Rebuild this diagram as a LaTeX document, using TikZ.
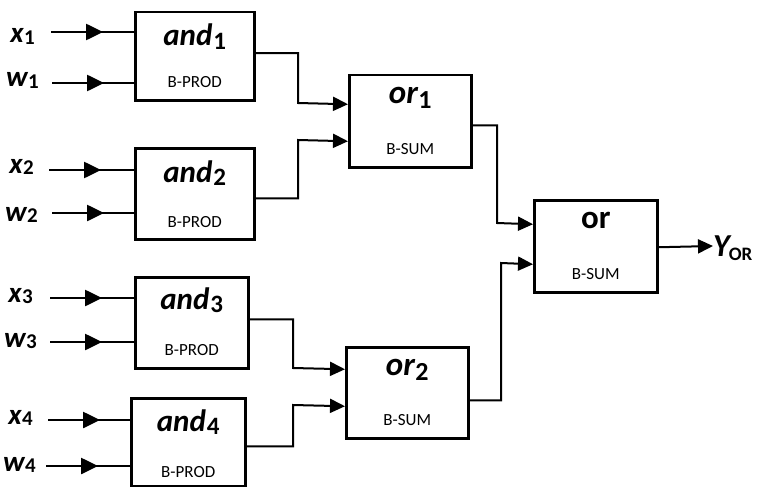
\documentclass[tikz,border=0pt]{standalone}
\usepackage{fontspec}
\setmainfont{Carlito}
\usetikzlibrary{arrows.meta,calc,decorations.markings}
\newcommand{\inlab}[2]{{\fontsize{29}{29}\selectfont\bfseries\itshape #1}\kern0.5pt\raisebox{-1.5pt}{\fontsize{21}{21}\selectfont\bfseries #2}}
\newcommand{\andlab}[1]{{\fontsize{31}{31}\selectfont\bfseries\itshape and}\kern1pt\raisebox{-3pt}{\fontsize{25}{25}\selectfont\bfseries #1}}
\newcommand{\orlab}[1]{{\fontsize{33}{33}\selectfont\bfseries\itshape or}\kern0.5pt\raisebox{-5pt}{\fontsize{26}{26}\selectfont\bfseries #1}}
\tikzset{
  gate/.style={draw, line width=2.5pt, anchor=north west, inner sep=0pt},
  sub/.style={anchor=base, font=\fontsize{17}{17}\selectfont},
  ttl/.style={anchor=base, inner sep=0pt},
  inlabel/.style={anchor=base east, inner sep=0pt},
  conn/.style={line width=2pt, -{Triangle[length=15pt,width=14pt]}},
  inwire/.style={line width=2.6pt, postaction={decorate},
    decoration={markings, mark=at position 52pt with {\arrow{Triangle[length=17pt,width=16pt]}}}},
}
\begin{document}
\begin{tikzpicture}[x=1pt,y=-1pt]
\useasboundingbox (0,0) rectangle (763,487);
% gates
\node[gate, minimum width=119pt, minimum height=88pt] (and1) at (134,11) {};
\node[gate, minimum width=119pt, minimum height=91pt] (and2) at (134,147) {};
\node[gate, minimum width=113pt, minimum height=91pt] (and3) at (134,276) {};
\node[gate, minimum width=114pt, minimum height=88pt] (and4) at (130,397) {};
\node[gate, minimum width=122pt, minimum height=92pt] (or1) at (348,74) {};
\node[gate, minimum width=122pt, minimum height=91pt] (or2) at (345,346) {};
\node[gate, minimum width=123pt, minimum height=92pt] (or) at (533,199) {};
% titles
\node[ttl] (t1) at ($(and1.north)+(0,35)$) {\andlab{1}};
\node[ttl] (t2) at ($(and2.north)+(0,35)$) {\andlab{2}};
\node[ttl] (t3) at ($(and3.north)+(0,33)$) {\andlab{3}};
\node[ttl] (t4) at ($(and4.north)+(0,34)$) {\andlab{4}};
\node[ttl] (t5) at ($(or1.north)+(0,29)$) {\orlab{1}};
\node[ttl] (t6) at ($(or2.north)+(0,29)$) {\orlab{2}};
\node[ttl] (t7) at ($(or.north)+(0,29)$) {\fontsize{33}{33}\selectfont\bfseries or};
% sub labels
\node[sub] (s1) at ($(and1.north)+(0,77)$) {B-PROD};
\node[sub] (s2) at ($(and2.north)+(0,80)$) {B-PROD};
\node[sub] (s3) at ($(and3.north)+(0,79)$) {B-PROD};
\node[sub] (s4) at ($(and4.north)+(0,80)$) {B-PROD};
\node[sub] (s5) at ($(or1.north)+(0,80)$) {B-SUM};
\node[sub] (s6) at ($(or2.north)+(0,79)$) {B-SUM};
\node[sub] (s7) at ($(or.north)+(0,80)$) {B-SUM};
% input labels
\node[inlabel] (lx1) at (35,43) {\inlab{x}{1}};
\node[inlabel] (lw1) at (39,87) {\inlab{w}{1}};
\node[inlabel] (lx2) at (34,173) {\inlab{x}{2}};
\node[inlabel] (lw2) at (38,221) {\inlab{w}{2}};
\node[inlabel] (lx3) at (33,302) {\inlab{x}{3}};
\node[inlabel] (lw3) at (37,347) {\inlab{w}{3}};
\node[inlabel] (lx4) at (33,424) {\inlab{x}{4}};
\node[inlabel] (lw4) at (36,471) {\inlab{w}{4}};
% input wire starts
\coordinate (sx1) at (51,32);
\coordinate (sw1) at (52,83);
\coordinate (sx2) at (49,170);
\coordinate (sw2) at (52,213);
\coordinate (sx3) at (50,298);
\coordinate (sw3) at (50,342);
\coordinate (sx4) at (48,420);
\coordinate (sw4) at (46,466);
\draw[inwire] (sx1) -- (and1.west |- sx1);
\draw[inwire] (sw1) -- (and1.west |- sw1);
\draw[inwire] (sx2) -- (and2.west |- sx2);
\draw[inwire] (sw2) -- (and2.west |- sw2);
\draw[inwire] (sx3) -- (and3.west |- sx3);
\draw[inwire] (sw3) -- (and3.west |- sw3);
\draw[inwire] (sx4) -- (and4.west |- sx4);
\draw[inwire] (sw4) -- (and4.west |- sw4);
% connectors
\draw[conn] ($(and1.east)+(0,-3)$) -| (298,103) -- ($(or1.west)+(0,-17)$);
\draw[conn] ($(and2.east)+(0,4.5)$) -| (298,140) -- ($(or1.west)+(0,20)$);
\draw[conn] ($(or1.east)+(0,4)$) -| (497,223) -- ($(or.west)+(0,-22)$);
\draw[conn] ($(and3.east)+(0,-3.5)$) -| (293,368) -- ($(or2.west)+(0,-23.5)$);
\draw[conn] ($(and4.east)+(0,4)$) -| (293,405) -- ($(or2.west)+(0,13.5)$);
\draw[conn] ($(or2.east)+(0,7.5)$) -| (501,263) -- ($(or.west)+(0,18)$);
% output
\coordinate (yo) at (713,246);
\draw[conn] ($(or.east)+(0,1)$) -- (yo);
\node[anchor=base west, inner sep=0pt] (ylab) at (713,256) {{\fontsize{32}{32}\selectfont\bfseries\itshape Y}\kern-1pt\raisebox{-4pt}{\fontsize{19}{19}\selectfont\bfseries OR}};
\end{tikzpicture}
\end{document}
